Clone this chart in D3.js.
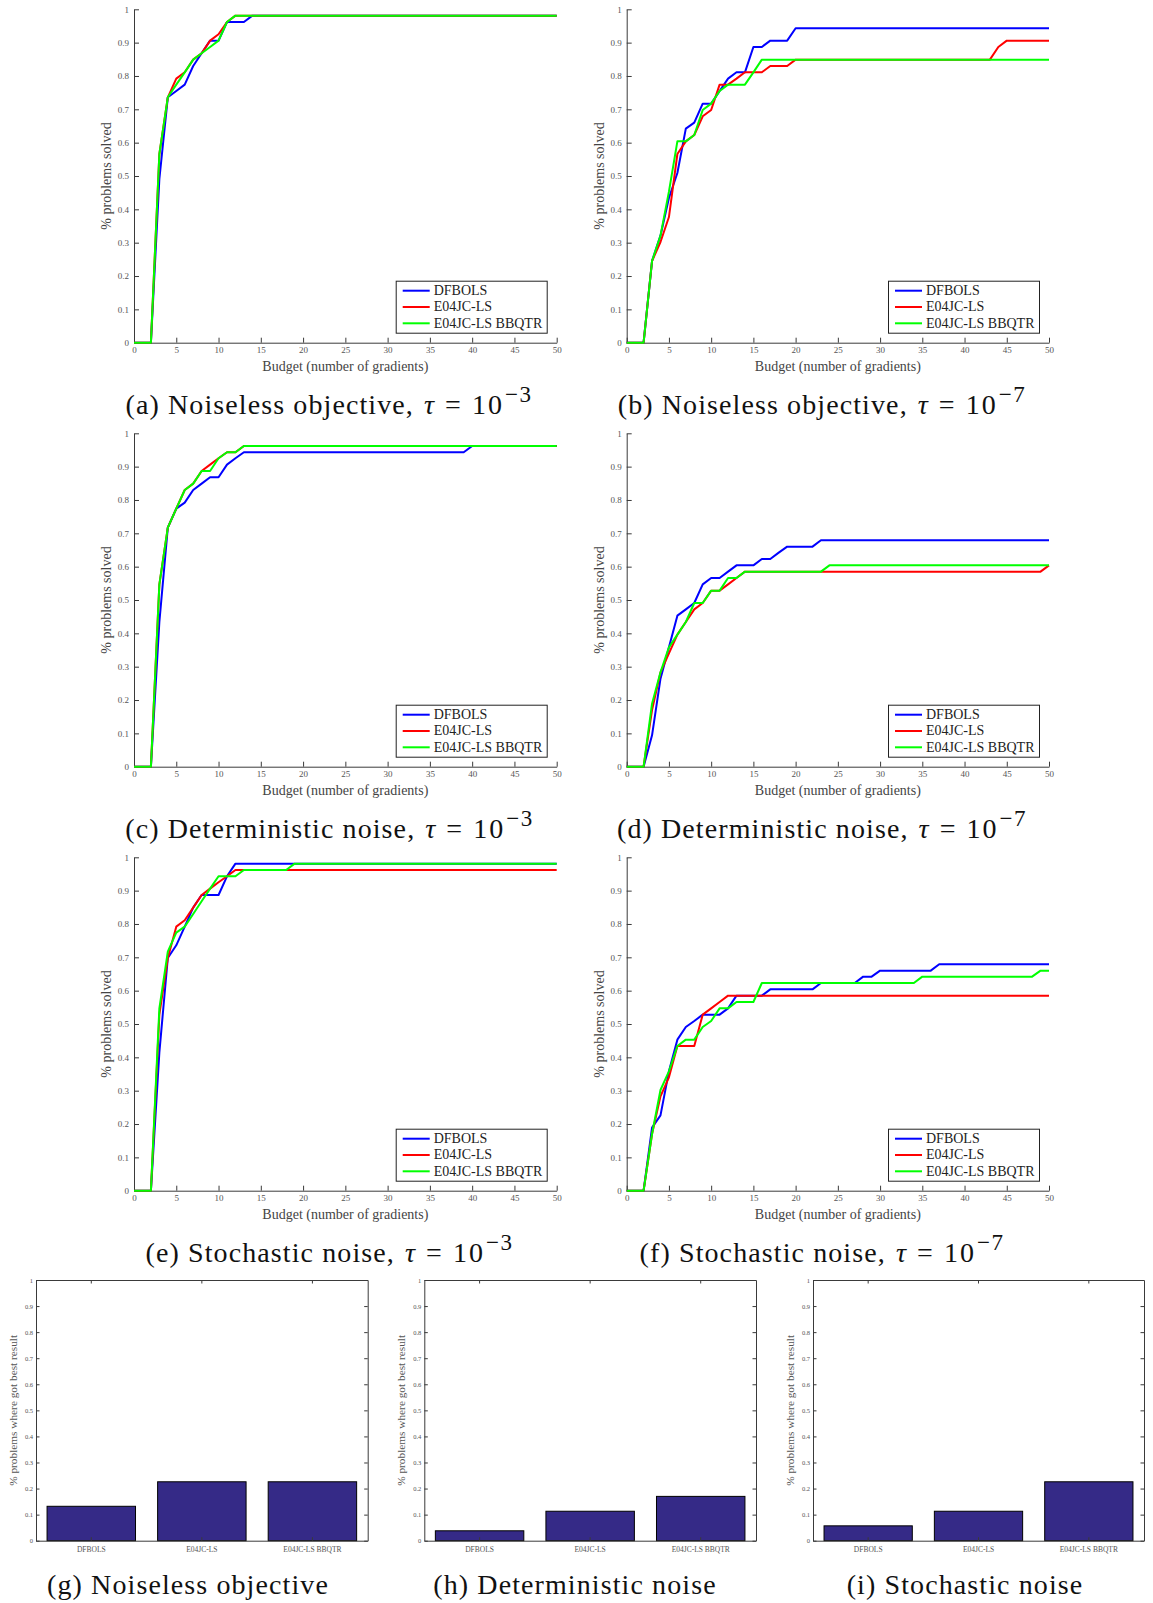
<!DOCTYPE html>
<html>
<head>
<meta charset="utf-8">
<script src="https://cdn.jsdelivr.net/npm/d3@7"></script>
<style>
  html, body { margin: 0; padding: 0; background: #ffffff; }
  svg { display: block; }
</style>
</head>
<body>
<svg id="fig" width="1153" height="1603"></svg>
<script>
// ---- Data -------------------------------------------------------------
const SOLVERS = ["DFBOLS", "E04JC-LS", "E04JC-LS BBQTR"];

// Budget axis and tick labels
const BUDGET_TICKS = [0, 5, 10, 15, 20, 25, 30, 35, 40, 45, 50];
const FRACTION_TICKS = [0, 0.1, 0.2, 0.3, 0.4, 0.5, 0.6, 0.7, 0.8, 0.9, 1];

// Data profiles: [budget, fraction of problems solved] at each vertex
// (a) noiseless objective, tau = 1e-3
const noiselessLoose_DFBOLS = [[0,0],[2,0],[3,0.491],[4,0.736],[5,0.755],[6,0.774],[7,0.830],[8,0.868],[9,0.906],[10,0.906],[11,0.962],[13,0.962],[14,0.981],[50,0.981]];
const noiselessLoose_E04JC  = [[0,0],[2,0],[3,0.566],[4,0.736],[5,0.792],[6,0.811],[7,0.849],[8,0.868],[9,0.906],[10,0.925],[11,0.962],[12,0.981],[50,0.981]];
const noiselessLoose_BBQTR  = [[0,0],[2,0],[3,0.566],[4,0.736],[5,0.774],[6,0.811],[7,0.849],[8,0.868],[9,0.887],[10,0.906],[11,0.962],[12,0.981],[50,0.981]];

// (b) noiseless objective, tau = 1e-7
const noiselessTight_DFBOLS = [[0,0],[2,0],[3,0.245],[4,0.321],[5,0.434],[6,0.509],[7,0.642],[8,0.660],[9,0.717],[10,0.717],[11,0.755],[12,0.792],[13,0.811],[14,0.811],[15,0.887],[16,0.887],[17,0.906],[19,0.906],[20,0.943],[50,0.943]];
const noiselessTight_E04JC  = [[0,0],[2,0],[3,0.245],[4,0.302],[5,0.377],[6,0.566],[7,0.604],[8,0.623],[9,0.679],[10,0.698],[11,0.774],[12,0.774],[13,0.792],[14,0.811],[16,0.811],[17,0.830],[19,0.830],[20,0.849],[43,0.849],[44,0.887],[45,0.906],[50,0.906]];
const noiselessTight_BBQTR  = [[0,0],[2,0],[3,0.245],[4,0.321],[5,0.453],[6,0.604],[7,0.604],[8,0.623],[9,0.698],[10,0.717],[11,0.755],[12,0.774],[14,0.774],[15,0.811],[16,0.849],[50,0.849]];

// (c) deterministic noise, tau = 1e-3
const detLoose_DFBOLS = [[0,0],[2,0],[3,0.434],[4,0.717],[5,0.774],[6,0.792],[7,0.830],[8,0.849],[9,0.868],[10,0.868],[11,0.906],[12,0.925],[13,0.943],[39,0.943],[40,0.962],[50,0.962]];
const detLoose_E04JC  = [[0,0],[2,0],[3,0.547],[4,0.717],[5,0.774],[6,0.830],[7,0.849],[8,0.887],[9,0.906],[10,0.925],[11,0.943],[12,0.943],[13,0.962],[50,0.962]];
const detLoose_BBQTR  = [[0,0],[2,0],[3,0.547],[4,0.717],[5,0.774],[6,0.830],[7,0.849],[8,0.887],[9,0.887],[10,0.925],[11,0.943],[12,0.943],[13,0.962],[50,0.962]];

// (d) deterministic noise, tau = 1e-7
const detTight_DFBOLS = [[0,0],[2,0],[3,0.094],[4,0.264],[5,0.358],[6,0.453],[7,0.472],[8,0.491],[9,0.547],[10,0.566],[11,0.566],[12,0.585],[13,0.604],[15,0.604],[16,0.623],[17,0.623],[18,0.642],[19,0.660],[22,0.660],[23,0.679],[50,0.679]];
const detTight_E04JC  = [[0,0],[2,0],[3,0.170],[4,0.283],[5,0.340],[6,0.396],[7,0.434],[8,0.472],[9,0.491],[10,0.528],[11,0.528],[12,0.547],[13,0.566],[14,0.585],[49,0.585],[50,0.604]];
const detTight_BBQTR  = [[0,0],[2,0],[3,0.189],[4,0.283],[5,0.358],[6,0.396],[7,0.434],[8,0.491],[9,0.491],[10,0.528],[11,0.528],[12,0.566],[13,0.566],[14,0.585],[23,0.585],[24,0.604],[50,0.604]];

// (e) stochastic noise, tau = 1e-3
const stochLoose_DFBOLS = [[0,0],[2,0],[3,0.415],[4,0.698],[5,0.736],[6,0.792],[7,0.849],[8,0.887],[10,0.887],[11,0.943],[12,0.981],[50,0.981]];
const stochLoose_E04JC  = [[0,0],[2,0],[3,0.528],[4,0.698],[5,0.792],[6,0.811],[7,0.849],[8,0.887],[9,0.906],[10,0.925],[11,0.943],[12,0.962],[50,0.962]];
const stochLoose_BBQTR  = [[0,0],[2,0],[3,0.547],[4,0.717],[5,0.774],[6,0.792],[7,0.830],[8,0.868],[9,0.906],[10,0.943],[12,0.943],[13,0.962],[18,0.962],[19,0.981],[50,0.981]];

// (f) stochastic noise, tau = 1e-7
const stochTight_DFBOLS = [[0,0],[2,0],[3,0.189],[4,0.226],[5,0.358],[6,0.453],[7,0.491],[8,0.509],[9,0.528],[11,0.528],[12,0.547],[13,0.585],[16,0.585],[17,0.604],[22,0.604],[23,0.623],[27,0.623],[28,0.642],[29,0.642],[30,0.660],[36,0.660],[37,0.679],[50,0.679]];
const stochTight_E04JC  = [[0,0],[2,0],[3,0.170],[4,0.283],[5,0.340],[6,0.434],[8,0.434],[9,0.528],[10,0.547],[11,0.566],[12,0.585],[50,0.585]];
const stochTight_BBQTR  = [[0,0],[2,0],[3,0.170],[4,0.302],[5,0.358],[6,0.434],[7,0.453],[8,0.453],[9,0.491],[10,0.509],[11,0.547],[12,0.547],[13,0.566],[15,0.566],[16,0.623],[34,0.623],[35,0.642],[48,0.642],[49,0.660],[50,0.660]];

// Fraction of problems where each solver got the best result
const bestNoiseless     = [0.132, 0.226, 0.226];
const bestDeterministic = [0.038, 0.113, 0.170];
const bestStochastic    = [0.057, 0.113, 0.226];

// ---- Drawing ----------------------------------------------------------
const COLORS = ["#0000ff", "#ff0000", "#00ff00"];
const SERIF = "'Liberation Serif', 'Times New Roman', serif";
const AXIS_COLOR = "#3a3a3a";
const LABEL_COLOR = "#555555";

const svg = d3.select("#fig");
svg.append("rect").attr("width", 1153).attr("height", 1603).attr("fill", "#ffffff");

const tickFmt = d => (d === 0 ? "0" : d === 1 ? "1" : d3.format(".1f")(d));

function styleAxis(g, fontSize) {
  g.select(".domain").attr("stroke", AXIS_COLOR).attr("stroke-width", 1);
  g.selectAll(".tick line").attr("stroke", AXIS_COLOR).attr("stroke-width", 1);
  g.selectAll(".tick text")
    .attr("fill", LABEL_COLOR)
    .style("font-family", SERIF)
    .style("font-size", fontSize + "px");
}

function caption(cx, baseline, tag, title, exponent) {
  const t = svg.append("text")
    .attr("x", cx).attr("y", baseline)
    .attr("text-anchor", "middle")
    .attr("fill", "#111")
    .style("font-family", SERIF)
    .style("font-size", "28px")
    .style("letter-spacing", "1.1px");
  if (exponent) {
    t.append("tspan").text(tag + " " + title + ",");
    t.append("tspan").attr("dx", 10).style("font-style", "italic").text("τ");
    t.append("tspan").attr("dx", 10).text("=");
    t.append("tspan").attr("dx", 10).style("letter-spacing", "2px").text("10");
    t.append("tspan").attr("dy", -12).attr("dx", 1).style("font-size", "23px").style("letter-spacing", "1.5px").text(exponent);
  } else {
    t.text(tag + " " + title);
  }
}

function profilePanel(box, series) {
  const x = d3.scaleLinear().domain([0, 50]).range([box.left, box.right]);
  const y = d3.scaleLinear().domain([0, 1]).range([box.bottom, box.top]);

  const gx = svg.append("g")
    .attr("transform", `translate(0,${box.bottom})`)
    .call(d3.axisBottom(x).tickValues(BUDGET_TICKS).tickSizeInner(-5).tickSizeOuter(0).tickPadding(4));
  styleAxis(gx, 9);

  const gy = svg.append("g")
    .attr("transform", `translate(${box.left},0)`)
    .call(d3.axisLeft(y).tickValues(FRACTION_TICKS).tickFormat(tickFmt).tickSizeInner(-5).tickSizeOuter(0).tickPadding(5));
  styleAxis(gy, 9);

  const line = d3.line().x(d => x(d[0])).y(d => y(d[1]));
  series.forEach((s, i) => {
    svg.append("path")
      .datum(s)
      .attr("d", line)
      .attr("fill", "none")
      .attr("stroke", COLORS[i])
      .attr("stroke-width", 2)
      .attr("stroke-linejoin", "round");
  });

  // axis titles
  svg.append("text")
    .attr("x", (box.left + box.right) / 2)
    .attr("y", box.bottom + 28)
    .attr("text-anchor", "middle")
    .attr("fill", "#444")
    .style("font-family", SERIF)
    .style("font-size", "14px")
    .text("Budget (number of gradients)");
  svg.append("text")
    .attr("transform", `translate(${box.left - 23},${(box.top + box.bottom) / 2}) rotate(-90)`)
    .attr("text-anchor", "middle")
    .attr("fill", "#444")
    .style("font-family", SERIF)
    .style("font-size", "14px")
    .text("% problems solved");

  // legend
  const lw = 151, lh = 52;
  const lx = box.right - 9.5 - lw, ly = box.bottom - 9.5 - lh;
  const lg = svg.append("g").attr("transform", `translate(${lx},${ly})`);
  lg.append("rect").attr("width", lw).attr("height", lh)
    .attr("fill", "#fff").attr("stroke", "#222").attr("stroke-width", 1);
  SOLVERS.forEach((name, i) => {
    const yy = 9.5 + i * 16.3;
    lg.append("line").attr("x1", 6.5).attr("x2", 33.5).attr("y1", yy).attr("y2", yy)
      .attr("stroke", COLORS[i]).attr("stroke-width", 2);
    lg.append("text").attr("x", 37.5).attr("y", yy + 4.5)
      .attr("fill", "#222")
      .style("font-family", SERIF).style("font-size", "14px")
      .text(name);
  });
}

function barPanel(box, values) {
  const x = d3.scaleBand().domain(SOLVERS).range([box.left, box.right])
    .paddingInner(0.2).paddingOuter(0.1);
  const y = d3.scaleLinear().domain([0, 1]).range([box.bottom, box.top]);

  svg.append("g").selectAll("rect")
    .data(values)
    .join("rect")
    .attr("x", (d, i) => x(SOLVERS[i]))
    .attr("width", x.bandwidth())
    .attr("y", d => y(d))
    .attr("height", d => y(0) - y(d))
    .attr("fill", "#352a87")
    .attr("stroke", "#000")
    .attr("stroke-width", 1);

  const gl = svg.append("g").attr("transform", `translate(${box.left},0)`)
    .call(d3.axisLeft(y).tickValues(FRACTION_TICKS).tickFormat(tickFmt).tickSizeInner(-3.5).tickSizeOuter(0).tickPadding(3));
  styleAxis(gl, 6.5);
  const gr = svg.append("g").attr("transform", `translate(${box.right},0)`)
    .call(d3.axisRight(y).tickValues(FRACTION_TICKS).tickFormat("").tickSizeInner(-3.5).tickSizeOuter(0));
  styleAxis(gr, 6.5);
  const gb = svg.append("g").attr("transform", `translate(0,${box.bottom})`)
    .call(d3.axisBottom(x).tickSizeInner(-3.5).tickSizeOuter(0).tickPadding(6));
  styleAxis(gb, 7.5);
  const gt = svg.append("g").attr("transform", `translate(0,${box.top})`)
    .call(d3.axisTop(x).tickFormat("").tickSizeInner(-3.5).tickSizeOuter(0));
  styleAxis(gt, 7.5);

  svg.append("text")
    .attr("transform", `translate(${box.left - 19},${(box.top + box.bottom) / 2}) rotate(-90)`)
    .attr("text-anchor", "middle")
    .attr("fill", "#555")
    .style("font-family", SERIF)
    .style("font-size", "11.3px")
    .text("% problems where got best result");
}

// ---- Layout -----------------------------------------------------------
const colL = { left: 134, right: 556.7 };
const colR = { left: 626.7, right: 1049 };
const rows = [
  { top: 9.3, bottom: 342.7, cap: 414 },
  { top: 433.3, bottom: 766.7, cap: 838 },
  { top: 857.3, bottom: 1190.7, cap: 1262 }
];

const profiles = [
  { col: colL, row: 0, series: [noiselessLoose_DFBOLS, noiselessLoose_E04JC, noiselessLoose_BBQTR], tag: "(a)", title: "Noiseless objective", exp: "−3", cx: 329 },
  { col: colR, row: 0, series: [noiselessTight_DFBOLS, noiselessTight_E04JC, noiselessTight_BBQTR], tag: "(b)", title: "Noiseless objective", exp: "−7", cx: 822 },
  { col: colL, row: 1, series: [detLoose_DFBOLS, detLoose_E04JC, detLoose_BBQTR], tag: "(c)", title: "Deterministic noise", exp: "−3", cx: 329.5 },
  { col: colR, row: 1, series: [detTight_DFBOLS, detTight_E04JC, detTight_BBQTR], tag: "(d)", title: "Deterministic noise", exp: "−7", cx: 822 },
  { col: colL, row: 2, series: [stochLoose_DFBOLS, stochLoose_E04JC, stochLoose_BBQTR], tag: "(e)", title: "Stochastic noise", exp: "−3", cx: 329.5 },
  { col: colR, row: 2, series: [stochTight_DFBOLS, stochTight_E04JC, stochTight_BBQTR], tag: "(f)", title: "Stochastic noise", exp: "−7", cx: 822 }
];

profiles.forEach(p => {
  const r = rows[p.row];
  profilePanel({ left: p.col.left, right: p.col.right, top: r.top, bottom: r.bottom }, p.series);
  caption(p.cx, r.cap, p.tag, p.title, p.exp);
});

const barTop = 1280, barBottom = 1540.7;
const bars = [
  { left: 36, right: 367.7, values: bestNoiseless, tag: "(g)", title: "Noiseless objective", cx: 188 },
  { left: 424.3, right: 756, values: bestDeterministic, tag: "(h)", title: "Deterministic noise", cx: 575 },
  { left: 813, right: 1144, values: bestStochastic, tag: "(i)", title: "Stochastic noise", cx: 965 }
];
bars.forEach(b => {
  barPanel({ left: b.left, right: b.right, top: barTop, bottom: barBottom }, b.values);
  caption(b.cx, 1594, b.tag, b.title, null);
});
</script>
</body>
</html>
